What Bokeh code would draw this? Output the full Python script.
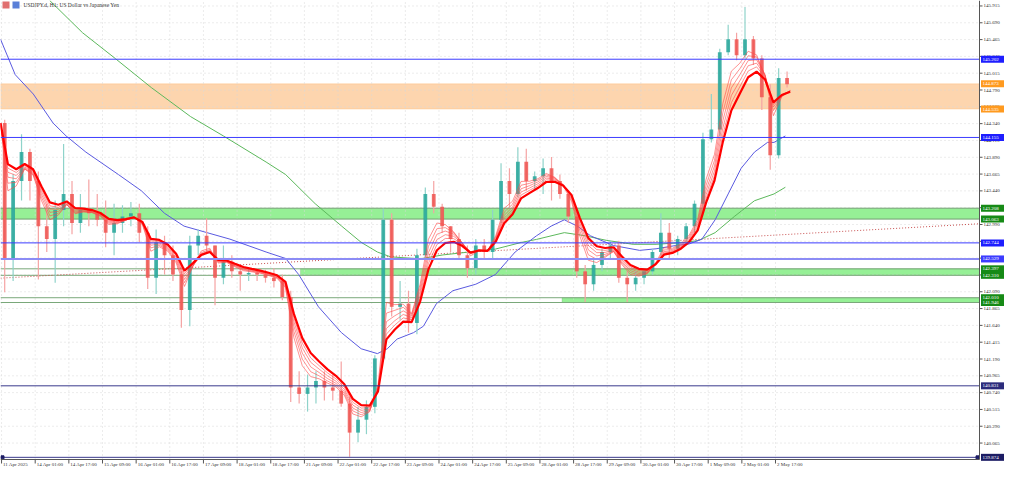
from bokeh.plotting import figure
from bokeh.models import BoxAnnotation, ColumnDataSource
from bokeh.embed import file_html
from bokeh.resources import INLINE

# ---------------- data (USDJPY.d, 4-hour candles) ----------------
OPEN = [144.348, 142.536, 143.571, 143.960, 143.571, 142.967, 142.795, 143.183, 143.399, 143.010,
        143.183, 143.140, 143.053, 142.881, 143.010, 143.096, 143.140, 142.881, 142.277, 142.751,
        142.579, 142.320, 141.845, 142.708, 142.838, 142.708, 142.277, 142.492, 142.363, 142.320,
        142.341, 142.320, 142.277, 142.233, 142.018, 140.809, 140.723, 140.809, 140.896, 140.809,
        140.766, 140.593, 140.205, 140.378, 140.550, 141.198, 143.053, 141.888, 141.931, 141.672,
        142.579, 143.399, 143.226, 142.967, 142.795, 142.579, 142.406, 142.708, 142.622, 143.053,
        143.571, 143.399, 143.830, 143.571, 143.636, 143.744, 143.571, 143.399, 143.096, 142.363,
        142.190, 142.449, 142.622, 142.708, 142.277, 142.190, 142.277, 142.363, 142.622, 142.881,
        142.665, 142.795, 142.967, 143.269, 144.132, 144.262, 145.297, 145.470, 145.254, 145.470,
        145.211, 144.693, 143.917, 144.952]
HIGH = [144.391, 143.658, 144.197, 144.003, 143.701, 143.269, 143.312, 144.068, 143.571, 143.399,
        143.593, 143.399, 143.312, 143.269, 143.247, 143.291, 143.269, 142.967, 142.924, 142.838,
        142.708, 142.363, 142.838, 142.924, 143.075, 142.708, 142.708, 142.579, 142.449, 142.406,
        142.406, 142.385, 142.406, 142.320, 142.104, 141.025, 140.982, 141.025, 141.025, 140.982,
        141.155, 140.680, 140.550, 140.636, 141.241, 143.204, 143.140, 142.233, 142.104, 142.665,
        143.485, 143.571, 143.269, 142.967, 142.881, 142.708, 142.795, 142.795, 143.183, 143.809,
        143.744, 144.024, 144.003, 143.701, 143.873, 143.895, 143.658, 143.442, 143.183, 142.449,
        142.536, 142.665, 142.773, 142.773, 142.363, 142.363, 142.406, 142.665, 143.140, 143.010,
        142.838, 143.010, 143.312, 144.219, 144.736, 145.341, 145.664, 145.556, 145.902, 145.513,
        145.254, 144.866, 145.082, 145.039]
LOW = [142.082, 142.233, 143.312, 143.312, 142.255, 142.622, 142.212, 142.967, 142.859, 142.881,
       142.967, 142.967, 142.687, 142.579, 142.881, 142.967, 142.751, 142.126, 142.061, 142.320,
       142.233, 141.608, 141.629, 142.579, 142.622, 141.910, 142.190, 142.277, 142.104, 142.233,
       142.233, 142.212, 142.147, 141.975, 140.615, 140.593, 140.486, 140.593, 140.636, 140.636,
       140.550, 139.881, 140.076, 140.184, 140.464, 141.155, 141.759, 141.716, 141.543, 141.521,
       142.536, 143.140, 142.881, 142.622, 142.536, 142.277, 142.320, 142.536, 142.536, 143.010,
       143.226, 143.355, 143.442, 143.442, 143.399, 143.312, 143.334, 143.010, 142.277, 141.953,
       142.104, 142.363, 142.536, 142.212, 141.953, 142.104, 142.190, 142.320, 142.579, 142.514,
       142.579, 142.708, 142.881, 143.183, 144.089, 144.175, 145.254, 145.190, 145.211, 145.125,
       144.521, 143.722, 143.873, 144.823]
CLOSE = [142.536, 143.571, 143.960, 143.571, 142.967, 142.795, 143.183, 143.399, 143.010, 143.183,
         143.140, 143.053, 142.881, 143.010, 143.096, 143.140, 142.881, 142.277, 142.751, 142.579,
         142.320, 141.845, 142.708, 142.838, 142.708, 142.277, 142.492, 142.363, 142.320, 142.341,
         142.320, 142.277, 142.233, 142.018, 140.809, 140.723, 140.809, 140.896, 140.809, 140.766,
         140.593, 140.205, 140.378, 140.550, 141.198, 143.053, 141.888, 141.931, 141.672, 142.579,
         143.399, 143.226, 142.967, 142.795, 142.579, 142.406, 142.708, 142.622, 143.053, 143.571,
         143.399, 143.830, 143.571, 143.636, 143.744, 143.571, 143.399, 143.096, 142.363, 142.190,
         142.449, 142.622, 142.708, 142.277, 142.190, 142.277, 142.363, 142.622, 142.881, 142.665,
         142.795, 142.967, 143.269, 144.132, 144.262, 145.297, 145.470, 145.254, 145.470, 145.211,
         144.693, 143.917, 144.952, 144.866]

# moving averages (bar index on the hourly axis, price)
BLUE_MA_X = [-0.5, 6.5, 15.1, 24.5, 30.7, 40.1, 55.6, 66.5, 77.5, 86.8, 97.7, 108.6, 125.8, 135.1,
             141.3, 150.7, 161.6, 171.0, 178.7, 183.4, 188.1, 195.9, 200.6, 206.8, 214.6, 225.5,
             234.8, 244.2, 254.3, 261.3, 267.6, 273.8, 280.1, 290.9, 303.4, 311.2, 320.6, 326.8,
             333.0, 339.3, 345.5, 351.7, 358.0, 364.2, 367.3, 372.7]
BLUE_MA_Y = [145.470, 144.995, 144.736, 144.348, 144.175, 143.959, 143.658, 143.441, 143.140,
             142.968, 142.881, 142.794, 142.622, 142.535, 142.320, 141.888, 141.543, 141.327,
             141.262, 141.327, 141.457, 141.543, 141.629, 141.932, 142.104, 142.191, 142.320,
             142.622, 142.838, 142.968, 143.053, 142.968, 142.838, 142.709, 142.644, 142.665,
             142.709, 142.729, 142.794, 143.053, 143.399, 143.744, 143.959, 144.089, 144.089,
             144.175]
GREEN_MA_X = [22.9, 38.5, 54.1, 71.2, 89.9, 105.5, 125.8, 135.1, 149.1, 161.6, 171.0, 178.7,
              185.0, 199.0, 209.9, 222.4, 234.8, 247.3, 254.3, 267.6, 276.9, 287.8, 300.3, 311.2,
              325.2, 331.5, 339.3, 348.6, 358.0, 367.3, 372.7]
GREEN_MA_Y = [145.988, 145.557, 145.211, 144.823, 144.434, 144.175, 143.826, 143.658,
              143.269, 142.971, 142.751, 142.622, 142.557, 142.531, 142.583, 142.622, 142.661,
              142.751, 142.790, 142.881, 142.842, 142.777, 142.725, 142.725, 142.751, 142.777,
              142.881, 143.101, 143.308, 143.399, 143.489]

TREND_X = [-0.5, 465.0]
TREND_Y = [142.272, 143.000]

BLUE_LEVELS = [145.202, 144.155, 142.744]
LIGHT_BLUE_LEVEL = 142.529
NAVY_LEVELS = [140.831, 139.874]
ORANGE_BAND = (144.535, 144.873)
GREEN_BANDS = [(143.063, 143.208, -0.5), (142.310, 142.397, 142.1), (141.946, 142.010, 266.5)]

X_TICKS = list(range(0, 369, 16))
X_LABELS = ["11 Apr 2025", "14 Apr 01:00", "14 Apr 17:00", "15 Apr 09:00", "16 Apr 01:00",
            "16 Apr 17:00", "17 Apr 09:00", "18 Apr 01:00", "18 Apr 17:00", "21 Apr 09:00",
            "22 Apr 01:00", "22 Apr 17:00", "23 Apr 09:00", "24 Apr 01:00", "24 Apr 17:00",
            "25 Apr 09:00", "28 Apr 01:00", "28 Apr 17:00", "29 Apr 09:00", "30 Apr 01:00",
            "30 Apr 17:00", "1 May 09:00", "2 May 01:00", "2 May 17:00"]
Y_TICKS = [145.915, 145.690, 145.465, 145.240, 145.015, 144.790, 144.565, 144.340, 144.115,
           143.890, 143.665, 143.440, 143.215, 142.990, 142.765, 142.540, 142.315, 142.090,
           141.865, 141.640, 141.415, 141.190, 140.965, 140.740, 140.515, 140.290, 140.065]
TAG_LEVELS = [145.202, 144.873, 144.535, 144.155, 143.208, 143.063, 142.744, 142.529,
              142.397, 142.310, 142.010, 141.946, 140.831, 139.874]
TAG_COLORS = ["#1e1eff", "#ff9a1f", "#ff9a1f", "#1e1eff", "#168a16", "#168a16", "#1e1eff",
              "#3c3cff", "#168a16", "#168a16", "#168a16", "#168a16", "#2c2c7c", "#1c1c64"]

# ---------------- layout (pixels) ----------------
W, H = 1008, 471
PW, PH = 979, 459            # price area
X0, X1 = -0.5, 465.0         # bar-index range of the price area
Y0, Y1 = 139.845, 145.988    # price range of the price area
BPX = (X1 - X0) / PW          # bars per pixel
YPX = (Y1 - Y0) / PH          # price per pixel
XF = X1 + (W - PW) * BPX
YF = Y0 - (H - PH) * YPX
BARS_PER_CANDLE = 4
FONT = "Arial"
FS = "5px"

p = figure(width=W, height=H, x_range=(X0, XF), y_range=(YF, Y1),
           toolbar_location=None, output_backend="svg", min_border=0)
p.axis.visible = False
p.grid.visible = False
p.outline_line_color = None
p.background_fill_color = "white"
p.border_fill_color = "white"

# grid
p.segment(x0=X_TICKS, x1=X_TICKS, y0=[Y0] * len(X_TICKS), y1=[Y1] * len(X_TICKS),
          line_color="#d8d8d8", line_dash="1 3", line_width=1)
p.segment(x0=[X0] * len(Y_TICKS), x1=[X1] * len(Y_TICKS), y0=Y_TICKS, y1=Y_TICKS,
          line_color="#d8d8d8", line_dash="1 3", line_width=1)

# bands
p.add_layout(BoxAnnotation(right=X1, bottom=ORANGE_BAND[0], top=ORANGE_BAND[1], fill_color="#fdd5ae",
                           fill_alpha=1.0, line_color="#ffb060", line_width=1, level="underlay"))
for lo, hi, start in GREEN_BANDS:
    p.segment(x0=[X0, X0], x1=[X1, X1], y0=[lo, hi], y1=[lo, hi], line_color="#7aa87a", line_width=1)
    p.add_layout(BoxAnnotation(left=start, right=X1, bottom=lo, top=hi, fill_color="#96f096",
                               fill_alpha=1.0, line_color="#7aa87a", line_width=1,
                               level="underlay"))

# trend line
p.line(TREND_X, TREND_Y, line_color="#c85050", line_dash="1 2", line_width=1)

# moving averages
p.line(GREEN_MA_X, GREEN_MA_Y, line_color="#5cb85c", line_width=1)
p.line(BLUE_MA_X, BLUE_MA_Y, line_color="#5a5ae0", line_width=1)

# candles
n = len(CLOSE)
xc = [BARS_PER_CANDLE * k + 1.5 for k in range(n)]
up = [c >= o for o, c in zip(OPEN, CLOSE)]
src = ColumnDataSource(dict(
    x=xc, high=HIGH, low=LOW,
    top=[max(o, c) for o, c in zip(OPEN, CLOSE)],
    bottom=[min(o, c) for o, c in zip(OPEN, CLOSE)],
    body=["#26a69a" if u else "#ef5350" for u in up],
    wick=["#8fd3ca" if u else "#f5a3a3" for u in up],
))
p.segment(x0="x", y0="low", x1="x", y1="high", line_color="wick", line_width=1.2, source=src)
p.vbar(x="x", width=1.8, top="top", bottom="bottom", fill_color="body", line_color=None,
       fill_alpha=0.85, source=src)

# EMA ribbon computed from the closes
def ema(vals, span, seed):
    a = 2.0 / (span + 1.0)
    e = seed
    out = [seed]
    for v in vals:
        e = e + a * (v - e)
        out.append(e)
    return out

ema_x = [X0] + [BARS_PER_CANDLE * k + 3 for k in range(n)]
for span in (3.0, 3.5, 4.0, 4.5, 5.0):
    p.line(ema_x, ema(CLOSE, span, OPEN[0]), line_color="#ff4a4a", line_alpha=0.6, line_width=1)
p.line(ema_x, ema(CLOSE, 5.6, OPEN[0]), line_color="#ff0000", line_width=2.2)

# horizontal levels
p.segment(x0=[X0] * len(BLUE_LEVELS), x1=[X1] * len(BLUE_LEVELS), y0=BLUE_LEVELS, y1=BLUE_LEVELS,
          line_color="#3c3cff", line_width=1)
p.segment(x0=[X0], x1=[X1], y0=[LIGHT_BLUE_LEVEL], y1=[LIGHT_BLUE_LEVEL],
          line_color="#8c8cf5", line_width=2)
p.segment(x0=[X0] * len(NAVY_LEVELS), x1=[X1] * len(NAVY_LEVELS), y0=NAVY_LEVELS, y1=NAVY_LEVELS,
          line_color="#3a3a8c", line_width=1)
p.scatter(x=[X0 + 2 * BPX, X1 - 2 * BPX], y=[NAVY_LEVELS[1]] * 2, marker="square", size=3,
          color="#1c1c64")

# axes (right price scale and bottom time scale)
p.segment(x0=[X1], x1=[X1], y0=[Y0], y1=[Y1], line_color="#555555", line_width=1)
p.segment(x0=[X0], x1=[X1], y0=[Y0], y1=[Y0], line_color="#555555", line_width=1)
p.segment(x0=[X1] * len(Y_TICKS), x1=[X1 + 3 * BPX] * len(Y_TICKS), y0=Y_TICKS, y1=Y_TICKS,
          line_color="#555555", line_width=1)
p.text(x=[X1 + 4 * BPX] * len(Y_TICKS), y=Y_TICKS, text=[f"{t:.3f}" for t in Y_TICKS],
       text_font=FONT, text_font_size=FS, text_color="#333333",
       text_align="left", text_baseline="middle")
p.segment(x0=X_TICKS, x1=X_TICKS, y0=[Y0] * len(X_TICKS), y1=[Y0 - 4 * YPX] * len(X_TICKS),
          line_color="#555555", line_width=1)
p.text(x=[t + 1.5 * BPX for t in X_TICKS], y=[Y0 - 2.5 * YPX] * len(X_TICKS), text=X_LABELS,
       text_font=FONT, text_font_size=FS, text_color="#333333",
       text_align="left", text_baseline="top")

# price tags on the scale
p.rect(x=[X1 + 13 * BPX] * len(TAG_LEVELS), y=TAG_LEVELS, width=23, height=7,
       width_units="screen", height_units="screen", fill_color=TAG_COLORS, line_color=None)
p.text(x=[X1 + 3 * BPX] * len(TAG_LEVELS), y=TAG_LEVELS, text=[f"{t:.3f}" for t in TAG_LEVELS],
       text_font=FONT, text_font_size=FS, text_color="white",
       text_align="left", text_baseline="middle")

# title with two small icons
p.rect(x=[X0 + 5.5 * BPX, X0 + 15.5 * BPX], y=[Y1 - 4.5 * YPX] * 2, width=7, height=7,
       width_units="screen", height_units="screen", fill_color=["#e07070", "#5a80d8"],
       line_color=None)
p.text(x=[X0 + 23 * BPX], y=[Y1 - 1.5 * YPX], text=["USDJPY.d, H1:  US Dollar vs Japanese Yen"],
       text_font=FONT, text_font_size="5.5px", text_color="#333333",
       text_align="left", text_baseline="top")

open("out.html", "w").write(file_html(p, INLINE))
